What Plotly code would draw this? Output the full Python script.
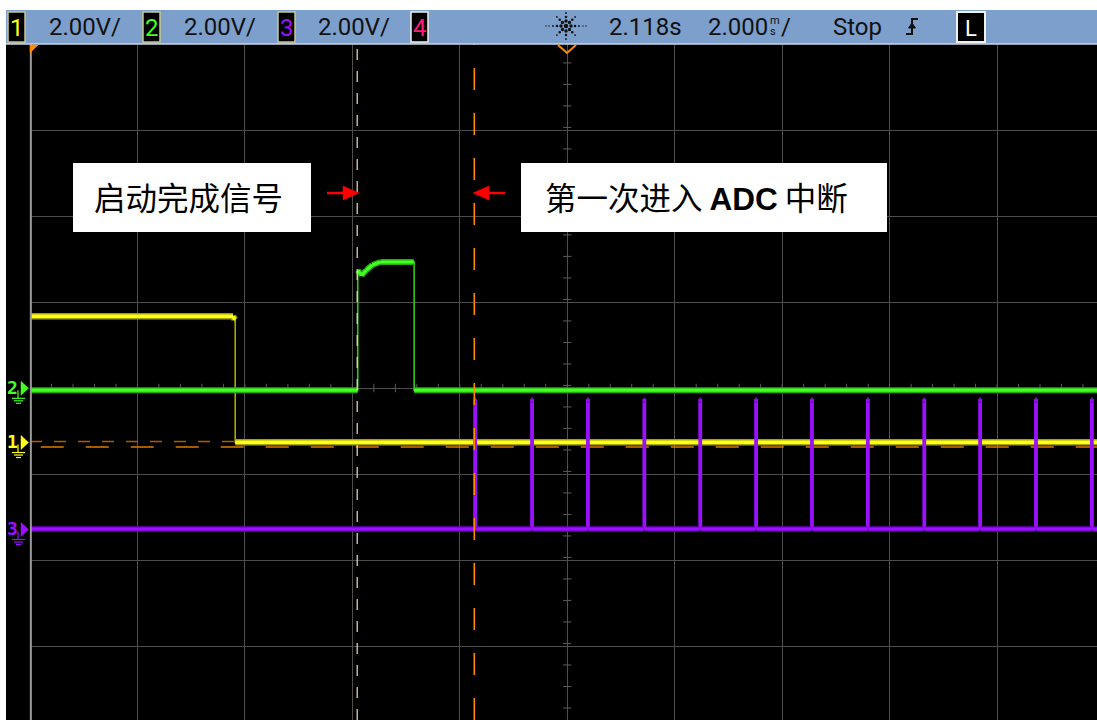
import plotly.graph_objects as go

# ---------------- screen geometry ----------------
W, H = 1097, 720
L_MARGIN, T_MARGIN = 30, 44
PLOT_W, PLOT_H = W - L_MARGIN, H - T_MARGIN
MS_PER_DIV = 2.0
V_PER_DIV = 2.0
PX_PER_XDIV = 107.45
X_MIN = -10.0
X_MAX = X_MIN + PLOT_W / PX_PER_XDIV * MS_PER_DIV
Y_MIN, Y_MAX = -3.86, 4.0

# ---------------- channel data (time in ms, level in V) ----------------
ch1_t = [-10.0, -6.22, -6.19, -6.18, -6.18, X_MAX]
ch1_v = [2.93, 2.93, 2.85, 2.85, 0.0, 0.0]
ch1_offset = -0.63          # ground marker position, divisions

ch2_t = [-10.0, -3.90, -3.90, -3.83, -3.74, -3.63, -3.48, -2.86, -2.85, -2.85, X_MAX]
ch2_v = [-0.05, -0.05, 2.74, 2.62, 2.74, 2.86, 2.93, 2.93, 2.93, -0.05, -0.05]
ch2_offset = 0.0

ch3_pulse_t = [-1.73, -0.67, 0.37, 1.42, 2.46, 3.50, 4.54, 5.58, 6.63, 7.67, 8.71, 9.75]
ch3_pulse_v = 3.0
ch3_base_v = 0.0
ch3_offset = -1.64

cursor_start_t = -3.91      # 启动完成信号
cursor_adc_t = -1.73        # 第一次进入 ADC 中断
trig_level_divs = [-0.622, -0.686]

COL1, COL1_DIM, COL1_EDGE = "#ffff1a", "#a3a300", "#a8a800"
COL2, COL2_DIM, COL2_EDGE = "#44ff22", "#22a812", "#33c81a"
COL3, COL3_DIM, COL3_EDGE = "#9a10ff", "#6a00c0", "#9a10ff"
ORANGE = "#ff8a00"


def px_x(px):
    return (px - L_MARGIN) / PLOT_W


def px_y(py):
    return (H - py) / PLOT_H


def to_div(vals, offset):
    return [offset + v / V_PER_DIV for v in vals]


def level_runs(t, y):
    """Non-vertical pieces of a trace (the settled levels, not the edges)."""
    xs, ys = [], []
    for i in range(len(t) - 1):
        if t[i + 1] > t[i]:
            xs += [t[i], t[i + 1], None]
            ys += [y[i], y[i + 1], None]
    return xs, ys


fig = go.Figure()


def add_channel(t, ydiv, col, dim, edge, core_w=3.2, band_w=6.5, edge_w=1.6):
    fig.add_trace(go.Scatter(x=t, y=ydiv, mode="lines",
                             line=dict(color=edge, width=edge_w), hoverinfo="skip"))
    fx, fy = level_runs(t, ydiv)
    fig.add_trace(go.Scatter(x=fx, y=fy, mode="lines",
                             line=dict(color=dim, width=band_w), hoverinfo="skip"))
    fig.add_trace(go.Scatter(x=fx, y=fy, mode="lines",
                             line=dict(color=col, width=core_w), hoverinfo="skip"))


# channel 3 waveform built from pulse times
ch3_t, ch3_v = [-10.0], [ch3_base_v]
for ts in ch3_pulse_t:
    ch3_t += [ts, ts, ts + 0.03, ts + 0.03]
    ch3_v += [ch3_base_v, ch3_pulse_v, ch3_pulse_v, ch3_base_v]
ch3_t.append(X_MAX)
ch3_v.append(ch3_base_v)

# centre-line minor ticks
hx = [X_MIN + i * 0.4 for i in range(int((X_MAX - X_MIN) / 0.4) + 1)]
fig.add_trace(go.Scatter(x=hx, y=[0] * len(hx), mode="markers",
                         marker=dict(symbol="line-ns", size=6, line=dict(color="#5a5a5a", width=1)),
                         hoverinfo="skip"))
vy = [Y_MIN + 0.14 + i * 0.25 for i in range(32)]
vy = [v for v in vy if Y_MIN < v < Y_MAX]
fig.add_trace(go.Scatter(x=[0] * len(vy), y=vy, mode="markers",
                         marker=dict(symbol="line-ew", size=6, line=dict(color="#5a5a5a", width=1)),
                         hoverinfo="skip"))

# trigger level (dashed orange)
fig.add_trace(go.Scatter(x=[X_MIN, X_MAX], y=[trig_level_divs[0]] * 2, mode="lines",
                         line=dict(color="#b05a00", width=1.5, dash="12px,12px"), hoverinfo="skip"))
fig.add_trace(go.Scatter(x=[X_MIN + 0.2, X_MAX], y=[trig_level_divs[1]] * 2, mode="lines",
                         line=dict(color="#e07800", width=1.5, dash="23px,22px"), hoverinfo="skip"))

add_channel(ch1_t, to_div(ch1_v, ch1_offset), COL1, COL1_DIM, COL1_EDGE, core_w=3.6, band_w=6.5)
add_channel(ch3_t, to_div(ch3_v, ch3_offset), COL3, COL3_DIM, COL3_EDGE, core_w=3.0, band_w=5.5, edge_w=2.2)
add_channel(ch2_t, to_div(ch2_v, ch2_offset), COL2, COL2_DIM, COL2_EDGE, core_w=3.2, band_w=6)

# cursors
fig.add_trace(go.Scatter(x=[cursor_start_t] * 2, y=[Y_MIN, Y_MAX], mode="lines",
                         line=dict(color="#f4dcc0", width=1.2, dash="11px,11px"), hoverinfo="skip"))
fig.add_trace(go.Scatter(x=[cursor_adc_t] * 2, y=[Y_MIN, Y_MAX], mode="lines",
                         line=dict(color=ORANGE, width=1.6, dash="22px,23px"), hoverinfo="skip"))

shapes = []
annotations = []


def rect(x0, y0, x1, y1, fill, line=None, lw=0, layer="above"):
    shapes.append(dict(type="rect", xref="paper", yref="paper",
                       x0=px_x(x0), x1=px_x(x1), y0=px_y(y1), y1=px_y(y0),
                       fillcolor=fill, line=dict(color=line or fill, width=lw), layer=layer))


def path(pts, fill=None, line=None, lw=1, closed=True):
    d = "M " + " L ".join(f"{px_x(x):.5f},{px_y(y):.5f}" for x, y in pts)
    if closed:
        d += " Z"
    shapes.append(dict(type="path", xref="paper", yref="paper", path=d,
                       fillcolor=fill or "rgba(0,0,0,0)",
                       line=dict(color=line or "rgba(0,0,0,0)", width=lw), layer="above"))


def text(x, y, s, size, color, family, anchor="left", bold=False):
    annotations.append(dict(xref="paper", yref="paper", x=px_x(x), y=px_y(y),
                            text=f"<b>{s}</b>" if bold else s, showarrow=False,
                            xanchor=anchor, yanchor="middle",
                            font=dict(size=size, color=color, family=family)))


# black screen behind left marker strip
shapes.append(dict(type="rect", xref="paper", yref="paper", x0=px_x(6), x1=0,
                   y0=0, y1=1, fillcolor="black", line=dict(width=0), layer="below"))
# left border of graticule
shapes.append(dict(type="line", xref="paper", yref="paper", x0=0.0008, x1=0.0008,
                   y0=0, y1=1, line=dict(color="#9a9a9a", width=2), layer="above"))

# status bar
rect(6, 10, W, 44, "#7d9fcc")
shapes.append(dict(type="line", xref="paper", yref="paper", x0=px_x(6), x1=1,
                   y0=px_y(44), y1=px_y(44), line=dict(color="#c8d6ea", width=1.5)))

BAR_FONT = "Liberation Sans Narrow, Roboto, Liberation Sans, sans-serif"
badges = [(8, "1", COL1, "#c8c890"), (143, "2", COL2, "#c8c890"),
          (278, "3", COL3, "#c8c890"), (411, "4", "#ff1a7a", "#f0f0f0")]
for bx, label, col, border in badges:
    rect(bx, 12, bx + 17, 42, "black", border, 1.5)
    text(bx + 8.5, 28, label, 24, col, BAR_FONT, anchor="center")
for tx in (47, 182, 316):
    text(tx, 27, "2.00V/", 24, "#111111", BAR_FONT)

# acquisition spark icon
cx, cy = 566, 26
dots = [(0, 0, 2.2)]
for ang_dx, ang_dy in [(1, 0), (-1, 0), (0, 1), (0, -1), (0.7, 0.7), (-0.7, 0.7), (0.7, -0.7), (-0.7, -0.7)]:
    for r, s in [(5, 1.7), (9, 1.3), (13, 0.9)]:
        dots.append((ang_dx * r, ang_dy * r, s))
for dx, dy in [(17, 0), (-17, 0), (20, 0), (-20, 0)]:
    dots.append((dx, dy, 0.7))
for dx, dy, s in dots:
    shapes.append(dict(type="circle", xref="paper", yref="paper",
                       x0=px_x(cx + dx - s), x1=px_x(cx + dx + s),
                       y0=px_y(cy + dy + s), y1=px_y(cy + dy - s),
                       fillcolor="#111111", line=dict(width=0)))

text(607, 27, "2.118s", 24, "#111111", BAR_FONT)
text(706, 27, "2.000", 24, "#111111", BAR_FONT)
text(768, 20, "m", 11, "#111111", BAR_FONT)
text(768, 31, "s", 11, "#111111", BAR_FONT)
text(779, 27, "/", 24, "#111111", BAR_FONT)
text(831, 27, "Stop", 24, "#111111", BAR_FONT)

# rising-edge trigger symbol
path([(906, 34), (912, 34), (912, 19), (918, 19)], line="#111111", lw=2, closed=False)
path([(908.5, 28), (915.5, 28), (912, 23)], fill="#111111", line="#111111", lw=1)

rect(957, 12, 985, 42, "black", "#f0f0f0", 2)
text(971, 28, "L", 22, "white", BAR_FONT, anchor="center")

# graticule markers: trigger position and left corner
path([(558, 45), (567, 53), (576, 45)], line=ORANGE, lw=2, closed=False)
path([(30, 45), (38, 45), (30, 53)], fill=ORANGE, line=ORANGE, lw=0.5)

# channel ground markers
MARK_FONT = "DejaVu Sans Mono, monospace"
for label, col, ydiv in [("2", COL2, ch2_offset), ("1", COL1, ch1_offset), ("3", COL3, ch3_offset)]:
    py = 388.3 - ydiv * 86.07
    text(12.5, py - 1, label, 18, col, MARK_FONT, anchor="center", bold=True)
    path([(21, py - 7), (28.5, py), (21, py + 7)], fill=col, line=col, lw=0.5)
    path([(18, py + 2), (18, py + 10)], line=col, lw=1.2, closed=False)
    path([(12, py + 10), (25, py + 10)], line=col, lw=1.2, closed=False)
    path([(14, py + 12.5), (23, py + 12.5)], line=col, lw=1.2, closed=False)
    path([(16, py + 15), (21, py + 15)], line=col, lw=1.2, closed=False)

# labels
CJK = "Noto Sans CJK SC, sans-serif"
rect(73, 163, 311, 232, "white")
text(188, 196, "启动完成信号", 31.5, "black", CJK, anchor="center")
rect(521, 163, 887, 232, "white")
annotations.append(dict(xref="paper", yref="paper", x=px_x(696), y=px_y(196),
                        text="第一次进入 <b><span style='font-family:Liberation Sans, Arial'>ADC</span></b> 中断",
                        showarrow=False, xanchor="center", yanchor="middle",
                        font=dict(size=31.5, color="black", family=CJK)))

# red arrows pointing at the cursors
path([(327, 193), (346, 193)], line="#ff0000", lw=2.5, closed=False)
path([(343, 186), (359, 193), (343, 200)], fill="#ff0000", line="#ff0000", lw=0.5)
path([(505, 193), (486, 193)], line="#ff0000", lw=2.5, closed=False)
path([(489, 186), (473, 193), (489, 200)], fill="#ff0000", line="#ff0000", lw=0.5)

fig.update_layout(
    width=W, height=H,
    margin=dict(l=L_MARGIN, r=0, t=T_MARGIN, b=0, pad=0),
    paper_bgcolor="white", plot_bgcolor="black",
    showlegend=False,
    shapes=shapes, annotations=annotations,
    xaxis=dict(range=[X_MIN, X_MAX], dtick=MS_PER_DIV, tick0=X_MIN, showgrid=True,
               gridcolor="#4e4e4e", gridwidth=1.2, zeroline=False, showticklabels=False,
               showline=False, ticks="", fixedrange=True),
    yaxis=dict(range=[Y_MIN, Y_MAX], dtick=1, tick0=0, showgrid=True,
               gridcolor="#4e4e4e", gridwidth=1.2, zeroline=False, showticklabels=False,
               showline=False, ticks="", fixedrange=True),
)

fig.write_html("out.html")
